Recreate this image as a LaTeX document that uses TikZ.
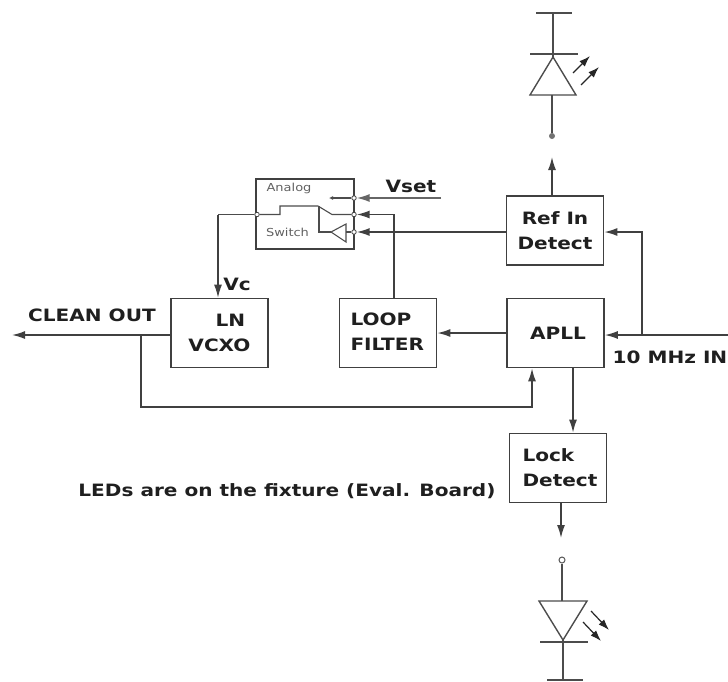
\documentclass[tikz,border=0pt]{standalone}
\usepackage{fontspec}
\setmainfont{DejaVu Sans}
\newfontfamily\widebold[FakeStretch=1.18]{DejaVu Sans Bold}
\newfontfamily\wideplain[FakeStretch=1.18]{DejaVu Sans}
\usetikzlibrary{arrows.meta,calc}
\tikzset{
  block/.style={draw=black!75,line width=1.7pt,minimum width=97pt,minimum height=69pt,inner sep=0pt,align=center,font=\fontsize{17}{25}\widebold,text=black!88},
  leftblock/.style={block,align=left,text width=97pt},
  lbl/.style={inner sep=0pt,font=\fontsize{17}{20}\widebold,text=black!88},
  small/.style={inner sep=0pt,font=\fontsize{11}{13}\wideplain,text=black!62},
  wire/.style={draw=black!75,line width=1.5pt},
  thin wire/.style={draw=black!70,line width=1.1pt},
  arr/.style={wire,-{Latex[length=13pt,width=8pt]}},
  port/.style={circle,draw=black!75,line width=.8pt,fill=white,minimum size=4.5pt,inner sep=0pt},
  led/.style={draw=black!70,line width=1.4pt},
  ray/.style={draw=black!85,line width=1.2pt,-{Latex[length=11pt,width=7.5pt]}}
}
\begin{document}
\begin{tikzpicture}[x=1pt,y=-1pt]
\useasboundingbox (0,0) rectangle (728,681);
% blocks
\node[block] (ref) at (555,230.5) {Ref In\\Detect};
\node[block] (apll) at (555.5,333) {\hspace*{5pt}APLL};
\node[leftblock] (lock) at (558,468) {\hspace*{13pt}Lock\\\hspace*{13pt}Detect};
\node[block] (vcxo) at (219.5,333) {\hspace*{22pt}LN\\VCXO};
\node[leftblock] (loop) at (388,333) {\hspace*{11pt}\raisebox{3pt}{LOOP}\\\hspace*{11pt}\raisebox{3pt}{FILTER}};
\node[draw=black!75,line width=1.3pt,minimum width=98pt,minimum height=70pt,inner sep=0pt] (sw) at (305,214) {};
% switch ports
\node[port] (p1) at (354,198) {};
\node[port] (p2) at (354,214.5) {};
\node[port] (p3) at (354,232) {};
\node[port] (p0) at (257,214.5) {};
\node[small] (t1) at (289,188) {Analog};
\node[small] (t2) at (287.5,232) {Switch};
% switch internals
\coordinate (s1) at (280,214.5);
\coordinate (s2) at (280,206);
\coordinate (s3) at (318,206);
\coordinate (s4) at (332,214.5);
\coordinate (s5) at (319,206);
\coordinate (s6) at (319,232);
\coordinate (b1) at (331,232);
\coordinate (b2) at (346,224);
\coordinate (b3) at (346,242);
\draw[thin wire] (p0) -- (s1) -- (s2) -- (s3) -- (s4) -- (p2);
\draw[thin wire] (s5) -- (s6) -- (b1);
\draw[thin wire,fill=white] (b1) -- (b2) -- (b3) -- cycle;
\draw[thin wire] (b3 |- p3) -- (p3);
\coordinate (v0) at (329,198);
\draw[thin wire,-{Latex[length=4pt,width=4pt]}] (p1) -- (v0);
% Vset
\coordinate (vs) at (441,198);
\draw[arr,draw=black!60] (vs) -- (p1);
\node[lbl] (vset) at (411,186) {Vset};
% loop filter to switch
\coordinate (lf) at (394,214.5);
\draw[arr] (loop.north -| lf) -- (lf) -- (p2);
% ref detect to switch
\draw[arr] (ref.west |- p3) -- (p3);
% switch to vcxo
\coordinate (c1) at (218,214.5);
\draw[thin wire] (p0) -- (c1);
\draw[arr,line width=1.3pt] (c1) -- (vcxo.north -| c1);
\node[lbl] (vc) at (237,284) {Vc};
% 10 MHz in
\coordinate (in) at (728,335);
\coordinate (jn) at (642,335);
\coordinate (rt) at (642,232);
\draw[arr] (in) -- (apll.east |- in);
\draw[arr] (jn) -- (rt) -- (ref.east |- rt);
\node[lbl] (mhz) at (670,357) {10 MHz IN};
% APLL to filter
\draw[arr] (apll.west) -- (loop.east);
% clean out
\coordinate (co) at (12,335);
\draw[arr] (vcxo.west |- co) -- (co);
\node[lbl] (clean) at (92,315) {CLEAN OUT};
% feedback
\coordinate (f1) at (141,335);
\coordinate (f2) at (141,407);
\coordinate (f3) at (532,407);
\draw[arr] (f1) -- (f2) -- (f3) -- (apll.south -| f3);
% lock
\coordinate (a1) at (573,368);
\draw[arr] (a1) -- (lock.north -| a1);
\coordinate (lo) at (561,538);
\draw[arr] (lock.south -| lo) -- (lo);
\node[lbl] (note) at (287,491) {LEDs are on the fixture (Eval. Board)};
% top arrow
\coordinate (up) at (552,157);
\draw[arr] (ref.north -| up) -- (up);
% top LED
\node[circle,fill=black!55,minimum size=6pt,inner sep=0pt] (d1) at (552,136) {};
\coordinate (ta) at (553,57);
\coordinate (tb) at (530,95);
\coordinate (tc) at (576,95);
\draw[led] (ta) -- (tb) -- (tc) -- cycle;
\draw[led] (d1) -- (d1 |- tb);
\coordinate (tbarl) at (530,54);
\coordinate (tbarr) at (578,54);
\draw[led] (tbarl) -- (tbarr);
\coordinate (ttl) at (536,13);
\coordinate (ttr) at (572,13);
\draw[led] (ttl) -- (ttr);
\draw[led] (ta |- ttl) -- (ta);
\coordinate (r1a) at (573,73);
\coordinate (r1b) at (590,56);
\coordinate (r2a) at (581,85);
\coordinate (r2b) at (599,67);
\draw[ray] (r1a) -- (r1b);
\draw[ray] (r2a) -- (r2b);
% bottom LED
\node[circle,draw=black!65,line width=1pt,fill=white,minimum size=6pt,inner sep=0pt] (d2) at (562,560) {};
\coordinate (ba) at (563,640);
\coordinate (bb) at (539,601);
\coordinate (bc) at (587,601);
\draw[led] (ba) -- (bb) -- (bc) -- cycle;
\draw[led] (d2) -- (d2 |- bb);
\coordinate (bbarl) at (540,642);
\coordinate (bbarr) at (588,642);
\draw[led] (bbarl) -- (bbarr);
\coordinate (bbl) at (547,680);
\coordinate (bbr) at (583,680);
\draw[led] (bbl) -- (bbr);
\draw[led] (ba) -- (ba |- bbl);
\coordinate (q1a) at (591,611);
\coordinate (q1b) at (609,630);
\coordinate (q2a) at (583,622);
\coordinate (q2b) at (601,641);
\draw[ray] (q1a) -- (q1b);
\draw[ray] (q2a) -- (q2b);
\end{tikzpicture}
\end{document}
